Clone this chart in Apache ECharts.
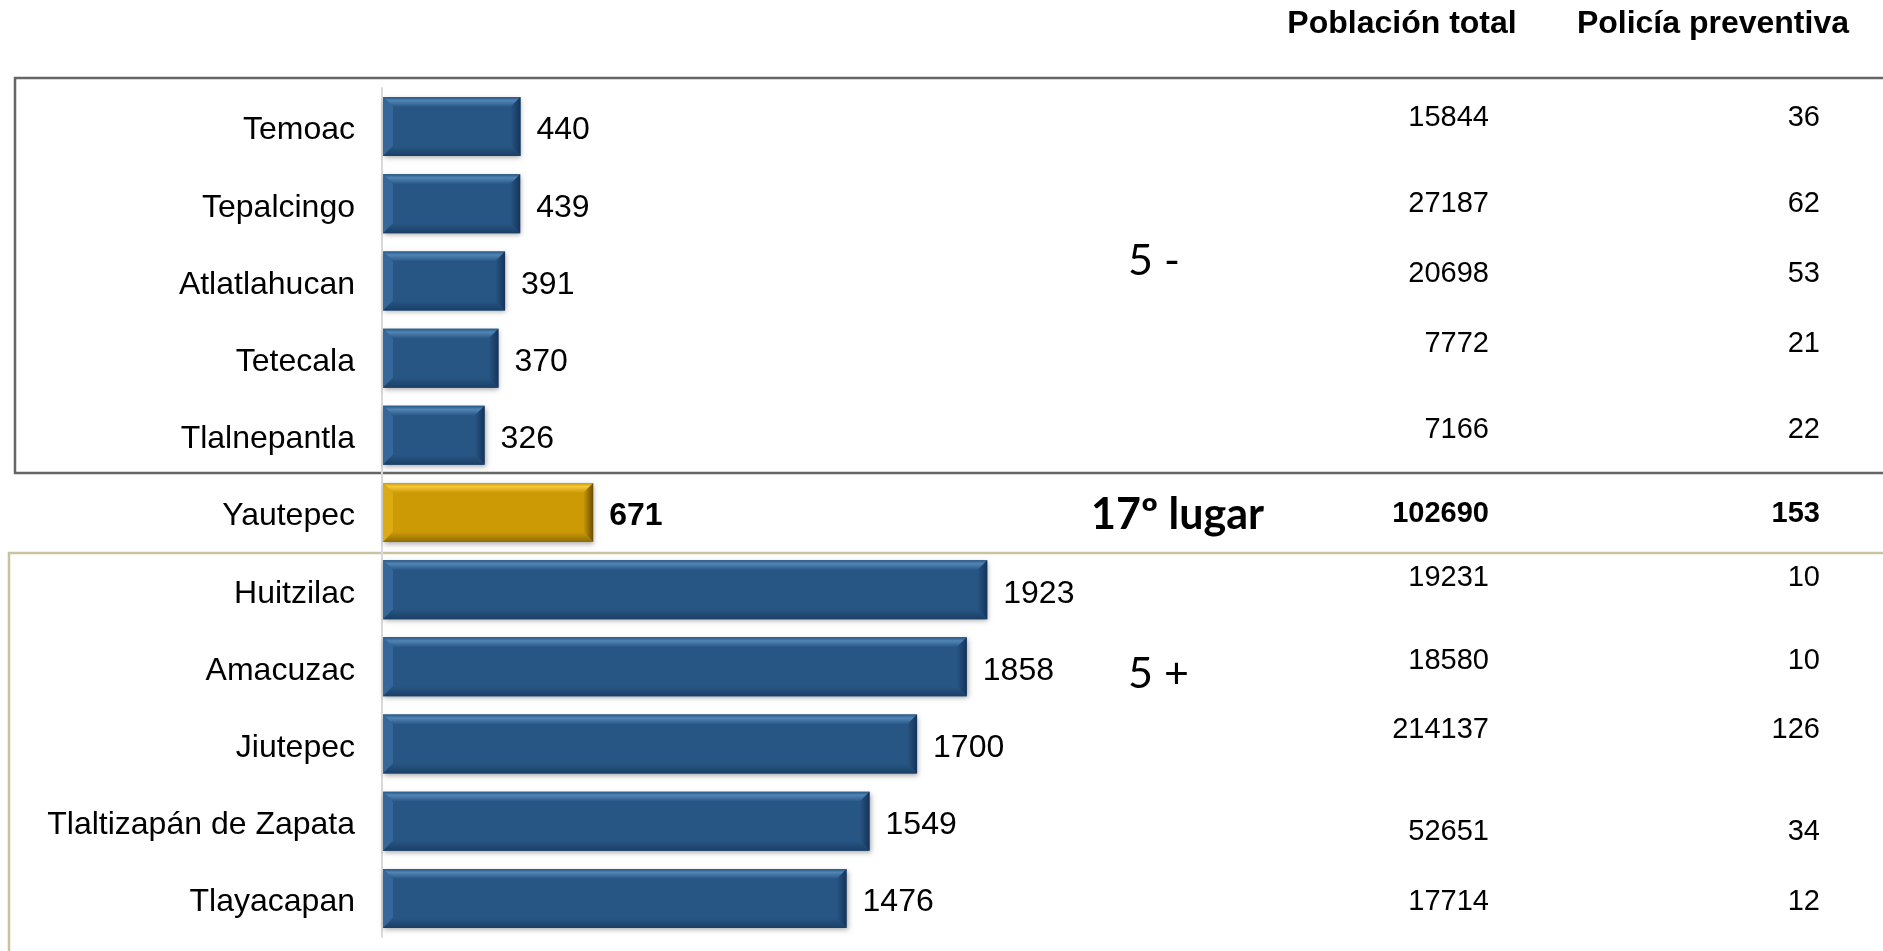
<!DOCTYPE html>
<html>
<head>
<meta charset="utf-8">
<style>
  html, body { margin: 0; padding: 0; background: #ffffff; }
  #chart { width: 1883px; height: 951px; }
</style>
<script src="https://cdn.jsdelivr.net/npm/echarts@6/dist/echarts.min.js"></script>
</head>
<body>
<div id="chart"></div>
<script>
const categories = ['Temoac', 'Tepalcingo', 'Atlatlahucan', 'Tetecala', 'Tlalnepantla', 'Yautepec',
  'Huitzilac', 'Amacuzac', 'Jiutepec', 'Tlaltizapán de Zapata', 'Tlayacapan'];
const values = [440, 439, 391, 370, 326, 671, 1923, 1858, 1700, 1549, 1476];
const poblacion = [15844, 27187, 20698, 7772, 7166, 102690, 19231, 18580, 214137, 52651, 17714];
const policia = [36, 62, 53, 21, 22, 153, 10, 10, 126, 34, 12];
const highlightIndex = 5;
const headers = ['Población total', 'Policía preventiva'];
const groupLabels = ['5 -', '17º lugar', '5 +'];

// layout / style (not data)
const rowTextShift = [-9, 0, -7, -14, -5, 1, -12, -6, -14, 11, 4];
const FONT = "'Liberation Sans', Arial, sans-serif";
const FONT2 = "Lato, 'Open Sans', sans-serif";
const blue = { main: '#285684', top: '#5085b6', left: '#35679a', right: '#14345a', bottom: '#1a3f66' };
const gold = { main: '#cc9a04', top: '#f4c838', left: '#dcaa12', right: '#6a4e00', bottom: '#8e6c08' };

const chart = echarts.init(document.getElementById('chart'), null, { renderer: 'canvas' });

function barItem(params, api) {
  const idx = api.value(1);
  const val = api.value(0);
  const start = api.coord([0, idx]);
  const end = api.coord([val, idx]);
  const h = 59;
  const x0 = start[0] + 1, x1 = end[0];
  const y0 = start[1] - h / 2, y1 = start[1] + h / 2;
  const b = 10;
  const c = idx === highlightIndex ? gold : blue;
  const bold = idx === highlightIndex;
  return {
    type: 'group',
    children: [
      { type: 'rect', shape: { x: x0, y: y0, width: x1 - x0, height: h },
        style: { fill: c.main, shadowBlur: 5, shadowColor: 'rgba(0,0,0,0.35)', shadowOffsetY: 2, shadowOffsetX: 1 } },
      { type: 'polygon', shape: { points: [[x0, y0], [x1, y0], [x1 - b, y0 + b], [x0 + b, y0 + b]] },
        style: { fill: new echarts.graphic.LinearGradient(0, 0, 0, 1, [{ offset: 0, color: c.main }, { offset: 0.35, color: c.top }, { offset: 1, color: c.main }]) } },
      { type: 'polygon', shape: { points: [[x0, y0], [x0 + b, y0 + b], [x0 + b, y1 - b], [x0, y1]] },
        style: { fill: c.left } },
      { type: 'polygon', shape: { points: [[x1, y0], [x1, y1], [x1 - b, y1 - b], [x1 - b, y0 + b]] },
        style: { fill: new echarts.graphic.LinearGradient(1, 0, 0, 0, [{ offset: 0, color: c.right }, { offset: 1, color: c.main }]) } },
      { type: 'polygon', shape: { points: [[x0, y1], [x1, y1], [x1 - b, y1 - b], [x0 + b, y1 - b]] },
        style: { fill: new echarts.graphic.LinearGradient(0, 1, 0, 0, [{ offset: 0, color: c.bottom }, { offset: 1, color: c.main }]) } },
      { type: 'text', style: { x: x1 + 16, y: start[1] + 4, text: String(val), align: 'left', verticalAlign: 'middle',
        fontSize: 32, fontWeight: bold ? 'bold' : 'normal', fontFamily: FONT, fill: '#000' } },
      { type: 'text', style: { x: start[0] - 27, y: start[1] + 4, text: categories[idx], align: 'right', verticalAlign: 'middle',
        fontSize: 32, fontFamily: FONT, fill: '#000' } }
    ]
  };
}

function tableItem(xRight, arr) {
  return function (params, api) {
    const idx = api.value(1);
    const p = api.coord([0, idx]);
    const bold = idx === highlightIndex;
    return {
      type: 'text',
      style: { x: xRight, y: p[1] + rowTextShift[idx], text: String(arr[idx]), align: 'right', verticalAlign: 'middle',
        fontSize: 29, fontWeight: bold ? 'bold' : 'normal', fontFamily: FONT, fill: '#000' }
    };
  };
}

const option = {
  animation: false,
  backgroundColor: '#ffffff',
  grid: { left: 382, right: 242, top: 88, bottom: 14, containLabel: false },
  xAxis: { type: 'value', min: 0, max: 4000, show: false },
  yAxis: {
    type: 'category', inverse: true, data: categories,
    axisLine: { show: true, lineStyle: { color: '#d9d9d9', width: 2 } },
    axisTick: { show: false },
    axisLabel: { show: false },
    splitLine: { show: false }
  },
  graphic: [
    { type: 'rect', shape: { x: 15, y: 78, width: 1900, height: 395 }, style: { fill: 'none', stroke: '#666666', lineWidth: 2.5 }, z: -1 },
    { type: 'rect', shape: { x: 9, y: 553, width: 1900, height: 420 }, style: { fill: 'none', stroke: '#c9c3a0', lineWidth: 2.5 }, z: -1 },
    { type: 'text', style: { x: 1402, y: 24, text: headers[0], align: 'center', verticalAlign: 'middle', fontSize: 32, fontWeight: 'bold', fontFamily: FONT, fill: '#000' } },
    { type: 'text', style: { x: 1849, y: 24, text: headers[1], align: 'right', verticalAlign: 'middle', fontSize: 32, fontWeight: 'bold', fontFamily: FONT, fill: '#000' } },
    { type: 'text', style: { x: 1128, y: 261, text: groupLabels[0], align: 'left', verticalAlign: 'middle', fontSize: 43, fontFamily: FONT2, fill: '#000' } },
    { type: 'text', style: { x: 1091, y: 515, text: groupLabels[1], align: 'left', verticalAlign: 'middle', fontSize: 43, fontWeight: 'bold', fontFamily: FONT2, fill: '#000' } },
    { type: 'text', style: { x: 1128, y: 674, text: groupLabels[2], align: 'left', verticalAlign: 'middle', fontSize: 43, fontFamily: FONT2, fill: '#000' } }
  ],
  series: [
    { type: 'custom', renderItem: barItem, encode: { x: 0, y: 1 },
      data: values.map((v, i) => [v, i]) },
    { type: 'custom', renderItem: tableItem(1489, poblacion), encode: { x: 0, y: 1 },
      data: poblacion.map((v, i) => [0, i]) },
    { type: 'custom', renderItem: tableItem(1820, policia), encode: { x: 0, y: 1 },
      data: policia.map((v, i) => [0, i]) }
  ]
};
chart.setOption(option);
</script>
</body>
</html>
